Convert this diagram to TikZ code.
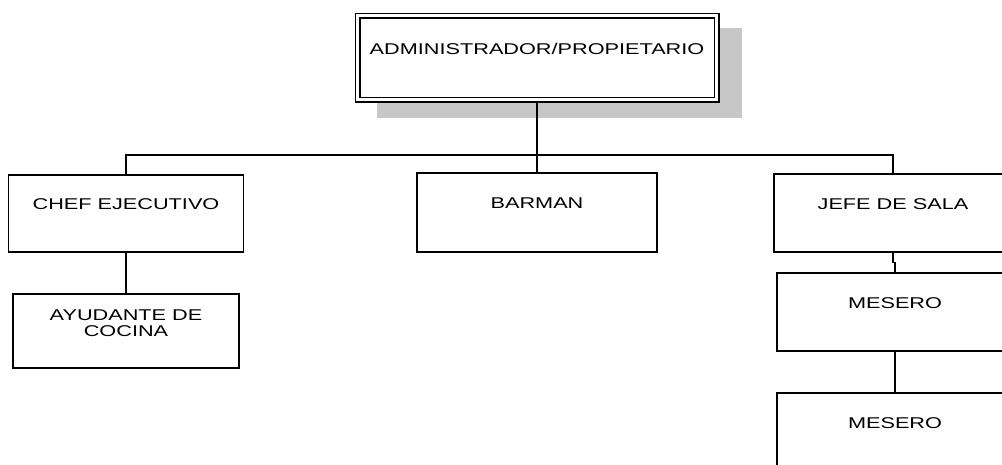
\documentclass[tikz,border=0pt]{standalone}
\usepackage{fontspec}
\setmainfont{Liberation Sans}[FakeStretch=1.39]
\begin{document}
\begin{tikzpicture}[x=1pt,y=-1pt,
  puesto/.style={draw,line width=1.5pt,fill=white,inner sep=0pt,
    minimum width=236pt,minimum height=78pt,align=center,
    font=\fontsize{15.6}{16}\selectfont,text height=11pt,text depth=18pt},
  sombra/.style={fill=black!22,inner sep=0pt},
  linea/.style={line width=1.5pt}]
\useasboundingbox (0,0) rectangle (1002,465);
\clip (0,0) rectangle (1002,465);
\node[sombra,minimum width=365pt,minimum height=90pt] (sombra) at (559,73) {};
\node[puesto,double,double distance=3pt,outer sep=3pt,minimum width=359pt,minimum height=84pt] (admin) at (537,58) {ADMINISTRADOR/PROPIETARIO};
\node[puesto,minimum width=235pt,minimum height=77pt] (chef) at (126,213.5) {CHEF EJECUTIVO};
\node[puesto,minimum width=226pt,minimum height=74pt,text depth=0pt] (ayudante) at (126,331) {AYUDANTE DE\\COCINA};
\node[puesto,minimum width=240pt,minimum height=79pt] (barman) at (537,212.5) {BARMAN};
\node[puesto,minimum width=238pt] (jefe) at (893,213) {JEFE DE SALA};
\node[puesto] (mesero1) at (895,312) {MESERO};
\node[puesto] (mesero2) at (895,432) {MESERO};
\coordinate (bus) at (537,155);
\draw[linea] (admin.south) -- (bus);
\draw[linea] (chef.north) |- (bus) -| (jefe.north);
\draw[linea] (bus) -- (barman.north);
\draw[linea] (chef.south) -- (ayudante.north);
\draw[linea] (jefe.south) -- ++(0,10) -| (mesero1.north);
\draw[linea] (mesero1.south) -- (mesero2.north);
\end{tikzpicture}
\end{document}
